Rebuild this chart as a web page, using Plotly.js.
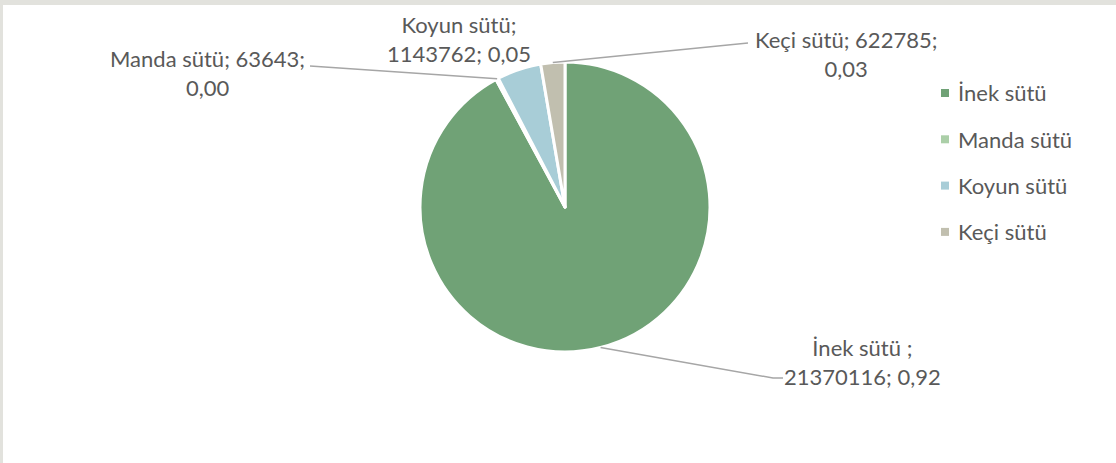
<!DOCTYPE html>
<html>
<head>
<meta charset="utf-8">
<script src="https://cdn.plot.ly/plotly-3.0.1.min.js"></script>
<style>html,body{margin:0;padding:0;background:#fff;}#chart{width:1116px;height:463px;}</style>
</head>
<body>
<div id="chart"></div>
<script>
// ---- data ----
const categories = ["İnek sütü ", "Manda sütü", "Koyun sütü", "Keçi sütü"];
const values = [21370116, 63643, 1143762, 622785];
const colors = ["#70a276", "#abcfa8", "#a8cdd7", "#c1bfaf"];
// label line-break position (after how many fields: 1 = after name, 2 = after value)
const labelBreaks = [1, 2, 1, 2];

// ---- layout geometry ----
const W = 1116, H = 463;
const cx = 565, cy = 207, R = 145;
const px = v => v / W;
const py = v => 1 - v / H;
const font = "Lato, 'Open Sans', sans-serif";
const txtColor = "#595959";
const FS = 22;

const total = values.reduce((a, b) => a + b, 0);
const shares = values.map(v => (v / total).toFixed(2).replace(".", ","));
const labelTexts = categories.map((c, i) => {
  const name = c + ";";
  return labelBreaks[i] === 1
    ? name + "<br>" + values[i] + "; " + shares[i]
    : name + " " + values[i] + ";<br>" + shares[i];
});

// label block centers (px) and leader-line text ends
const labelPos = [[862, 362], [207, 73], [459, 39], [846, 54]];
const leaderEnds = [[[773, 378], [783, 378]], [[310, 66]], null, [[748, 43]]];

// slice mid angles (clockwise from top)
let acc = 0;
const mids = values.map(v => { const a0 = acc; acc += v / total * 360; return (a0 + acc) / 2; });
const anchor = i => {
  const t = mids[i] * Math.PI / 180;
  return [cx + R * Math.sin(t), cy - R * Math.cos(t)];
};

const shapes = [];
// frame bands
shapes.push({type: "rect", xref: "paper", yref: "paper", x0: 0, x1: 1, y0: py(5), y1: 1, fillcolor: "#e2e2dd", line: {width: 0}, layer: "below"});
shapes.push({type: "rect", xref: "paper", yref: "paper", x0: 0, x1: px(3), y0: 0, y1: 1, fillcolor: "#e2e2dd", line: {width: 0}, layer: "below"});

leaderEnds.forEach((pts, i) => {
  if (!pts) return;
  const a = anchor(i);
  const all = [a].concat(pts);
  let path = "M" + px(all[0][0]) + "," + py(all[0][1]);
  for (let k = 1; k < all.length; k++) path += " L" + px(all[k][0]) + "," + py(all[k][1]);
  shapes.push({type: "path", xref: "paper", yref: "paper", path: path, line: {color: "#a6a6a6", width: 1.5}});
});

const annotations = labelTexts.map((t, i) => ({
  xref: "paper", yref: "paper", x: px(labelPos[i][0]), y: py(labelPos[i][1]),
  xanchor: "center", yanchor: "middle", align: "center", showarrow: false,
  text: t, font: {family: font, size: FS, color: txtColor}
}));

// custom legend
const legX = 945, legTextX = 956, legY0 = 93, legDy = 46.3, ms = 8;
categories.forEach((c, i) => {
  const y = legY0 + i * legDy;
  shapes.push({type: "rect", xref: "paper", yref: "paper",
    x0: px(legX - ms / 2), x1: px(legX + ms / 2), y0: py(y + ms / 2), y1: py(y - ms / 2),
    fillcolor: colors[i], line: {width: 0}});
  annotations.push({xref: "paper", yref: "paper", x: px(legTextX), y: py(y),
    xanchor: "left", yanchor: "middle", showarrow: false, text: c.trim(),
    font: {family: font, size: FS, color: txtColor}});
});

const trace = {
  type: "pie",
  labels: categories,
  values: values,
  sort: false,
  direction: "clockwise",
  rotation: 0,
  textinfo: "none",
  hoverinfo: "label+value+percent",
  marker: {colors: colors, line: {color: "#ffffff", width: 3}},
  domain: {x: [px(cx - R), px(cx + R)], y: [py(cy + R), py(cy - R)]},
  showlegend: false
};

Plotly.newPlot("chart", [trace], {
  width: W, height: H,
  margin: {l: 0, r: 0, t: 0, b: 0},
  paper_bgcolor: "#ffffff",
  showlegend: false,
  shapes: shapes,
  annotations: annotations
}, {displayModeBar: false, staticPlot: true});
</script>
</body>
</html>
